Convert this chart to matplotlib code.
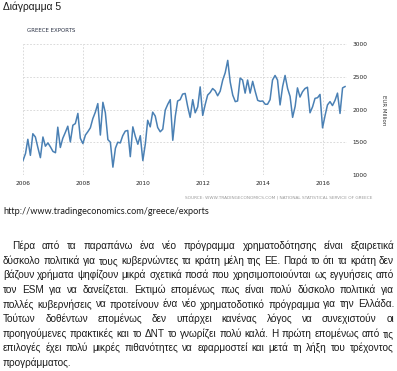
import numpy as np
import pandas as pd
import matplotlib
matplotlib.use('Agg')
import matplotlib.pyplot as plt

FIG_W, FIG_H = 397, 371

# monthly exports, EUR million, Jan 2006 - Oct 2016
exports = [
    1220, 1330, 1545, 1300, 1630, 1580, 1420, 1265, 1580, 1440, 1490, 1430,
    1360, 1340, 1730, 1420, 1560, 1650, 1745, 1505, 1760, 1785, 1940, 1560,
    1480, 1610, 1660, 1720, 1860, 1960, 2090, 1610, 2110, 1950, 1540, 1500,
    1120, 1410, 1500, 1490, 1600, 1670, 1680, 1280, 1735, 1590, 1470, 1600,
    1220, 1480, 1835, 1735, 1960, 1900, 1725, 1660, 1700, 1990, 2080, 2150,
    1530, 1900, 2130, 2150, 2235, 2245, 2050, 1880, 2150, 1950, 2040, 2345,
    1910, 2080, 2220, 2260, 2320, 2285, 2210, 2280, 2450, 2560, 2750, 2420,
    2220, 2120, 2130, 2480, 2450, 2250, 2450, 2250, 2430, 2280, 2140, 2125,
    2130, 2080, 2080, 2150, 2450, 2520, 2450, 2070, 2350, 2520, 2320, 2200,
    1880, 2050, 2330, 2190, 2270, 2320, 2340, 1950, 2040, 2170, 2180, 2230,
    1720, 1910, 2070, 2120, 2060, 2140, 2250, 1940, 2330, 2350,
]
start_month = '2006-01-01'
year_ticks = [2006, 2008, 2010, 2012, 2014, 2016]
value_ticks = [1000, 1500, 2000, 2500, 3000]

caption = "Διάγραμμα 5"
chart_title = "GREECE EXPORTS"
unit_label = "EUR Million"
source_note = "SOURCE: WWW.TRADINGECONOMICS.COM | NATIONAL STATISTICAL SERVICE OF GREECE"
link = "http://www.tradingeconomics.com/greece/exports"
paragraph_lines = [
    "Πέρα από τα παραπάνω ένα νέο πρόγραμμα χρηματοδότησης είναι εξαιρετικά",
    "δύσκολο πολιτικά για τους κυβερνώντες τα κράτη μέλη της ΕΕ. Παρά το ότι τα κράτη δεν",
    "βάζουν χρήματα ψηφίζουν μικρά σχετικά ποσά που χρησιμοποιούνται ως εγγυήσεις από",
    "τον ESM για να δανείζεται. Εκτιμώ επομένως πως είναι πολύ δύσκολο πολιτικά για",
    "πολλές κυβερνήσεις να προτείνουν ένα νέο χρηματοδοτικό πρόγραμμα για την Ελλάδα.",
    "Τούτων δοθέντων επομένως δεν υπάρχει κανένας λόγος να συνεχιστούν οι",
    "προηγούμενες πρακτικές και το ΔΝΤ το γνωρίζει πολύ καλά. Η πρώτη επομένως από τις",
    "επιλογές έχει πολύ μικρές πιθανότητες να εφαρμοστεί και μετά τη λήξη του τρέχοντος",
    "προγράμματος.",
]

TEXT_FONT = 'Liberation Sans'
TEXT_LEFT, TEXT_RIGHT = 3, 394


def px(x, y):
    # page pixel -> figure fraction
    return x / FIG_W, 1 - y / FIG_H


def fit_size(fig, renderer, line, width, size=7.0):
    # scale the font so the tightest line just fills the column
    t = fig.text(0, 0, line, fontsize=size, family=TEXT_FONT)
    w = t.get_window_extent(renderer).width
    t.remove()
    return size * width / w


def justify_line(fig, renderer, text, x0, x1, y, size, last=False):
    words = text.split()
    items = [fig.text(0, 0, w, fontsize=size, family=TEXT_FONT,
                      color='#1a1a1a', va='center') for w in words]
    widths = [t.get_window_extent(renderer).width for t in items]
    if last or len(words) == 1:
        gap = size * 100 / 72 * 0.28
    else:
        gap = (x1 - x0 - sum(widths)) / (len(words) - 1)
    x = x0
    for t, w in zip(items, widths):
        t.set_position(px(x, y))
        x += w + gap


fig = plt.figure(figsize=(FIG_W / 100, FIG_H / 100), dpi=100)
fig.patch.set_facecolor('white')

# chart box
left, right, top, bottom = 23, 347, 44, 175
ax = fig.add_axes([left / FIG_W, 1 - bottom / FIG_H, (right - left) / FIG_W, (bottom - top) / FIG_H])

dates = pd.date_range(start_month, periods=len(exports), freq='MS')
ax.plot(dates, exports, color='#4a80b4', lw=1.1)

ax.set_xlim(pd.Timestamp('2006-01-01'), pd.Timestamp('2016-10-25'))
ax.set_ylim(value_ticks[0], value_ticks[-1])
ax.set_xticks([pd.Timestamp(f'{y}-01-01') for y in year_ticks])
ax.set_xticklabels([str(y) for y in year_ticks])
ax.set_yticks(value_ticks)
ax.yaxis.tick_right()
ax.grid(True, ls=(0, (2, 2)), color='#d4d4d4', lw=0.6)
ax.tick_params(length=0, labelsize=4.2, colors='#222222', pad=4)
for s in ax.spines.values():
    s.set_visible(False)

fig.text(*px(383, 110), unit_label, rotation=270, fontsize=4, color='#333333',
         ha='center', va='center')
fig.text(*px(27, 31), chart_title, fontsize=4, color='#2b3245', ha='left', va='center')
fig.text(*px(372, 197), source_note, fontsize=3.1, color='#9a9a9a', ha='right', va='center')

fig.text(*px(3, 7), caption, fontsize=7.4, family=TEXT_FONT, color='#1a1a1a', va='center')
fig.text(*px(3, 211), link, fontsize=6.6, family='Lato', color='#1a1a1a', va='center')

renderer = fig.canvas.get_renderer()
size = fit_size(fig, renderer, paragraph_lines[1], TEXT_RIGHT - TEXT_LEFT)
y = 246
for i, line in enumerate(paragraph_lines):
    x0 = 12 if i == 0 else TEXT_LEFT
    justify_line(fig, renderer, line, x0, TEXT_RIGHT, y, size, last=(i == len(paragraph_lines) - 1))
    y += 14.6

fig.savefig('out.png', dpi=100)
